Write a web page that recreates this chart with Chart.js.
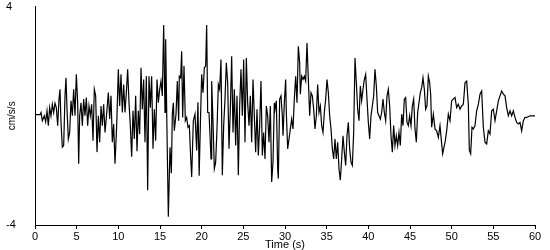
<!DOCTYPE html>
<html>
<head>
<meta charset="utf-8">
<script src="https://cdn.jsdelivr.net/npm/chart.js"></script>
<style>
  body { margin: 0; background: #fff; }
  #wrap { width: 550px; height: 250px; }
</style>
</head>
<body>
<div id="wrap"><canvas id="accelChart"></canvas></div>
<script>
// time (s) and acceleration (cm/s/s)
const timeSec = [
  0, 0.6, 0.72, 0.88, 1.12, 1.28, 1.44, 1.6, 1.76, 1.92, 2.08, 2.24, 2.4, 2.56, 2.72, 2.88, 3.0, 3.12, 3.28, 3.44,
  3.6, 3.72, 3.84, 4.0, 4.16, 4.32, 4.48, 4.64, 4.8, 4.96, 5.12, 5.24, 5.36, 5.52, 5.68, 5.84, 6.0, 6.16, 6.32, 6.48,
  6.64, 6.8, 6.96, 7.12, 7.28, 7.44, 7.6, 7.76, 7.92, 8.08, 8.24, 8.4, 8.56, 8.8, 8.96, 9.12, 9.28, 9.44, 9.6,
  9.8, 10.0, 10.16, 10.32, 10.48, 10.64, 10.8, 10.96, 11.12, 11.28, 11.44, 11.6, 11.76, 11.92, 12.08, 12.24, 12.4, 12.56, 12.72, 12.88,
  13.04, 13.2, 13.36, 13.52, 13.68, 13.84, 14.0, 14.16, 14.32, 14.48, 14.64, 14.8, 14.96, 15.12, 15.28, 15.44, 15.6, 15.68, 15.84, 16.0,
  16.2, 16.36, 16.48, 16.6, 16.72, 16.92, 17.08, 17.24, 17.32, 17.48, 17.6, 17.72, 17.88, 18.04, 18.2, 18.36, 18.52, 18.68, 18.8, 19.0,
  19.2, 19.4, 19.55, 19.7,
  19.84, 20.0, 20.16, 20.32, 20.48, 20.6, 20.72, 20.88, 21.04, 21.12, 21.2, 21.36, 21.52, 21.68, 21.84, 22.0, 22.16, 22.32, 22.48, 22.64,
  22.8, 22.96, 23.12, 23.28, 23.44, 23.6, 23.76, 23.92, 24.08, 24.24, 24.4, 24.56, 24.72, 24.88, 25.04, 25.2, 25.36, 25.52, 25.68, 25.84,
  26.0, 26.16, 26.32, 26.48, 26.64, 26.8, 26.96, 27.12, 27.28, 27.44, 27.6, 27.76, 27.92, 28.08, 28.24, 28.4, 28.56, 28.72,
  28.8, 28.96, 29.12, 29.2, 29.36, 29.52, 29.68, 29.76, 29.92, 30.08, 30.16, 30.32, 30.48, 30.64, 30.8, 30.96, 31.12, 31.28, 31.44, 31.6,
  31.76, 31.84, 32.0, 32.16, 32.32, 32.48, 32.64, 32.8, 32.96, 33.12, 33.28, 33.44, 33.6, 33.76, 33.92, 34.08, 34.24, 34.4, 34.56, 34.72,
  34.88, 35.04, 35.2, 35.36, 35.52, 35.68, 35.84, 36.0, 36.16, 36.32, 36.48, 36.64, 36.8, 36.96, 37.12, 37.28, 37.44, 37.6, 37.76, 37.92,
  38.08, 38.24, 38.4,
  38.56, 38.72, 38.88, 39.04, 39.2, 39.36, 39.52, 39.68, 39.84, 40.0, 40.16, 40.32, 40.48, 40.64, 40.8, 40.96, 41.12, 41.28, 41.44, 41.6,
  41.76, 41.92, 42.08, 42.24, 42.4, 42.56, 42.72, 42.88, 43.04, 43.2, 43.36, 43.52, 43.68, 43.84, 44.0, 44.16, 44.32, 44.48, 44.64, 44.8,
  44.96, 45.12, 45.28, 45.44, 45.6, 45.76, 45.92, 46.08, 46.24, 46.4, 46.56, 46.72, 46.88, 47.04, 47.2, 47.36,
  47.48, 47.6, 47.8, 48.0, 48.2, 48.4, 48.6, 48.8, 48.92, 49.08, 49.24, 49.4, 49.6, 49.8, 50.0, 50.2, 50.4, 50.6, 50.8, 51.0,
  51.2, 51.4, 51.6, 51.8, 52.0, 52.12, 52.28, 52.44, 52.6, 52.8, 53.0, 53.2, 53.4, 53.6, 53.8, 54.0, 54.2, 54.4, 54.6, 54.8,
  55.0, 55.2, 55.4, 55.6, 55.8, 56.0, 56.2, 56.4, 56.6, 56.8, 57.0, 57.2, 57.4, 57.6, 57.8, 58.0, 58.2, 58.4, 58.6, 58.8,
  59.0, 59.4, 60.0
];
const accel = [
  0.04, 0.04, 0.12, -0.18, 0, -0.22, 0.18, -0.36, 0.30, 0, 0.42, 0.12, 0.46, 0.30, -0.36, 0.61, 0.97, -0.24, -1.15, -1.09,
  0.73, 1.39, 0.24, -0.85, -0.61, 0.55, 0, 0.97, 0, 1.52, 0.48, -1.76, 0, 0.48, -0.36, 0.61, 0, 0.67, -0.36, 0.36,
  0, 0.42, -0.91, 0.97, 0.73, -1.33, 0, -0.97, 0.36, -0.36, 0.42, -0.61, -0.06, 0.85, -0.12, 0.73, -0.97, -0.30, -1.76,
  -0.36, 1.7, 0.36, 1.52, 0.12, 1.15, 0.12, 0.85, 1.7, 0.48, -0.36, -1.5, 0.18, -0.85, 0.73, -1.3, 0.18, -0.67, 1.76, 0.24,
  1.33, -0.97, 1.45, -2.73, 1.45, 0.3, 1.45, -1.21, 0.24, -0.91, 1.33, 0.48, 0.97, 1.27, 0.73, 3.33, 0.12, 2.8, -0.6, -3.7,
  -1.15, -2.1, 0.06, 0.48, -0.55, 0.06, 1.27, -0.18, 1.45, 1.39, 2.36, -0.06, 1.82, -0.18, -0.06, -0.42, -0.36, -1.52, -2.24, -0.18,
  0.06, -1.27, 0.5, -2.2,
  -0.36, 1.52, 0.85, 1.76, 1.82, 3.33, 0.12, 0.12, -0.97, -1.58, 1.27, -0.24, -1.94, -1.7, -0.48, 1.15, 0.97, 2.06, -2.18, -0.36,
  0.61, 1.94, 1.21, -1.21, 0.24, 2.18, -0.61, 0.97, -1.09, 0.73, -2.18, 0.36, 1.7, 0, 2.06, -0.97, 2.12, 0.48, -0.36, 0.73,
  -0.97, 1.33, 0, -1.33, 0.24, -1.45, -0.36, 1.27, -1.45, -0.61, -1.58, 0.36, 0, -0.97, 0.36, -2.42, -1.7, 0.48,
  0.24, 0.55, -1.94, -2.3, 0.61, 0.73, 0, -0.73, 0.48, 1.33, 0.12, -1.21, -0.85, -0.48, -0.12, -0.48, 0.61, 1.45, 0.48, 2.55,
  1.94, 0.79, 1.45, 1.33, 1.45, 1.27, 2.67, 1.33, 0, 0.85, 0.73, 0.24, -0.48, 0, 1.15, 0.12, 0.36, -0.36, -0.61, 0.12,
  0.61, 1.33, 0.85, 0, -0.48, -1.21, -1.58, -0.85, -1.58, -0.97, -1.94, -2.36, -1.58, -0.73, -1.33, -1.82, -0.73, -0.24, -1.21, -1.7,
  -1.82, -0.61, 2.12,
  1.21, 0.24, -0.18, 1.09, 0.55, 0.97, 1.33, 1.52, 0.61, -0.24, -0.85, 0, 0.36, 0.73, 1.7, 1.09, 0.12, 0, -0.12, 0.12,
  0.61, 0.12, -0.18, 0.73, 0.97, 0.36, -0.73, -1.33, -0.36, -1.09, -0.73, -1.09, -0.61, -1.09, 0.06, -0.36, 0.61, 0.67, -0.24, -0.36,
  0, -0.36, 0.36, 0.61, -0.48, -0.97, 0.12, 0.48, 0.85, 1.03, 1.39, 0.97, 0.24, 0.36, 1.45, 1.21,
  0.79, -0.42, 0.06, -0.48, -0.55, -0.79, -0.36, -1.03, -1.39, -1.15, -0.91, -0.55, 0.06, -0.18, 0.55, 0.61, 0.67, 0.3, 0.42, 0.24,
  0.36, 0.42, 1.21, 1.27, 0.42, -1.27, -1.39, -0.42, -0.48, -0.36, 0.18, 0.42, 0.79, 0.91, -0.42, -0.97, -1.03, -0.55, -0.67, 0.18,
  0.24, -0.18, 0.18, 0.55, 0.73, 0.91, 0.79, 0.73, 0.3, 0, 0.18, 0, 0.18, -0.06, -0.24, -0.3, -0.24, -0.55, -0.18, -0.06,
  -0.06, 0, 0
];
const xTicks = [0, 5, 10, 15, 20, 25, 30, 35, 40, 45, 50, 55, 60];
const yTicks = [-4, 4];

const fontFamily = '"Liberation Sans", Arial, sans-serif';
const points = timeSec.map((t, i) => ({ x: t, y: accel[i] }));

const ctx = document.getElementById('accelChart').getContext('2d');
const accelChart = new Chart(ctx, {
    type: 'line',
    data: {
        datasets: [{
            data: points,
            borderColor: '#000',
            borderWidth: 1.2,
            pointRadius: 0,
            tension: 0,
            fill: false
        }]
    },
    options: {
        responsive: true,
        maintainAspectRatio: false,
        animation: false,
        layout: { padding: { left: 6, top: 5, right: 15, bottom: 0 } },
        plugins: {
            legend: { display: false },
            tooltip: { enabled: false }
        },
        scales: {
            x: {
                type: 'linear',
                min: 0,
                max: 60,
                afterBuildTicks: s => { s.ticks = xTicks.map(v => ({ value: v })); },
                afterFit: s => { s.height = 25; },
                grid: { display: true, drawOnChartArea: false, drawTicks: true, tickLength: 4, color: '#000' },
                border: { display: true, color: '#000', width: 1 },
                ticks: { color: '#000', font: { family: fontFamily, size: 11 }, padding: 1, maxRotation: 0 },
                title: {
                    display: true,
                    text: 'Time (s)',
                    color: '#000',
                    font: { family: fontFamily, size: 11 },
                    padding: { top: 0, bottom: -2 }
                }
            },
            y: {
                min: -4,
                max: 4,
                afterBuildTicks: s => { s.ticks = yTicks.map(v => ({ value: v })); },
                afterFit: s => { s.width = 29; },
                grid: { display: false },
                border: { display: true, color: '#000', width: 1 },
                ticks: { crossAlign: 'far', color: '#000', font: { family: fontFamily, size: 11 }, padding: 0 },
                title: {
                    display: true,
                    text: 'cm/s/s',
                    color: '#000',
                    font: { family: fontFamily, size: 10 },
                    padding: { top: 0, bottom: 0 }
                }
            }
        }
    }
});
</script>
</body>
</html>
